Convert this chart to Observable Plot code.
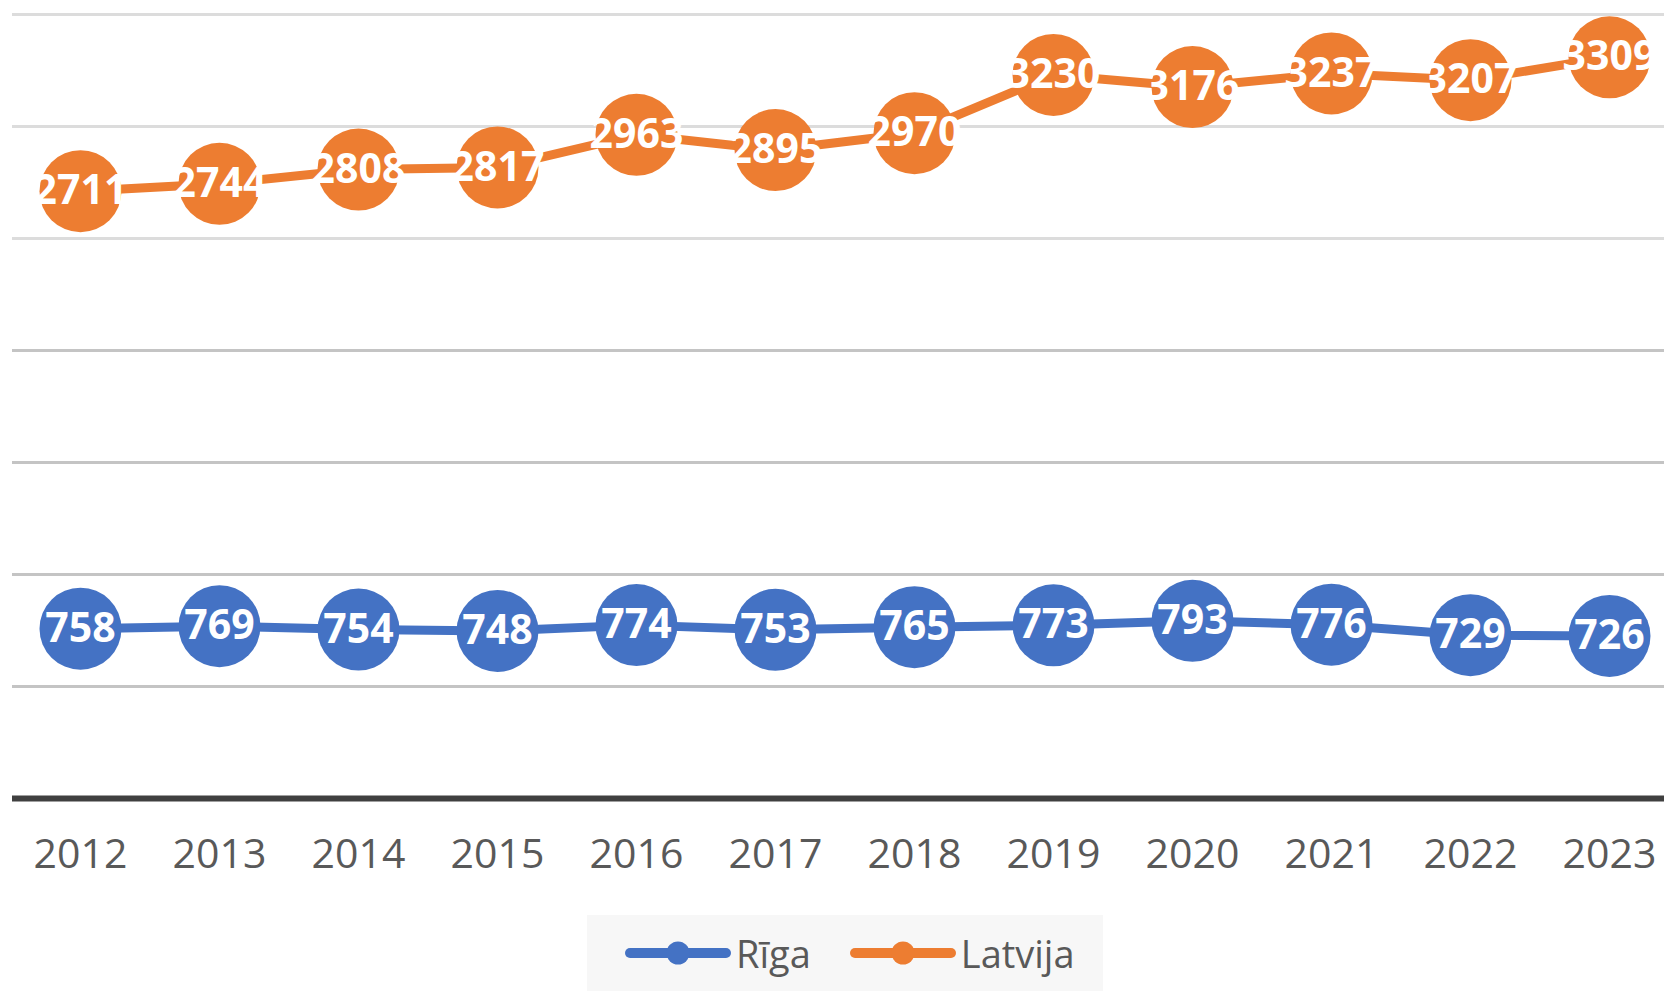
<!DOCTYPE html>
<html>
<head>
<meta charset="utf-8">
<script src="https://cdn.jsdelivr.net/npm/d3@7"></script>
<script src="https://cdn.jsdelivr.net/npm/@observablehq/plot@0.6"></script>
<style>
  html, body { margin: 0; padding: 0; background: #fff; font-family: "Open Sans", sans-serif; }
  #chart svg { display: block; }
  .legend { margin-left: 587px; margin-top: 10px; width: 516px; height: 76px; box-sizing: border-box; padding-left: 37px; background: #f7f7f7; display: flex; align-items: center; justify-content: flex-start; gap: 38px; }
  .item { display: flex; align-items: center; font-size: 38px; color: #595959; line-height: 1; }
  .item svg { margin-right: 4px; }
</style>
</head>
<body>
<div id="chart"></div>
<div class="legend" id="legend"></div>
<script>
const years = [2012, 2013, 2014, 2015, 2016, 2017, 2018, 2019, 2020, 2021, 2022, 2023];
const riga = [758, 769, 754, 748, 774, 753, 765, 773, 793, 776, 729, 726];
const latvija = [2711, 2744, 2808, 2817, 2963, 2895, 2970, 3230, 3176, 3237, 3207, 3309];
const seriesNames = ["Rīga", "Latvija"];
const seriesColors = ["#4472c4", "#ed7d31"];
const gridValues = [500, 1000, 1500, 2000, 2500, 3000, 3500];

const data = [];
years.forEach((yr, i) => {
  data.push({year: yr, value: riga[i], series: seriesNames[0]});
  data.push({year: yr, value: latvija[i], series: seriesNames[1]});
});

const chart = Plot.plot({
  width: 1664,
  height: 905,
  marginLeft: 12,
  marginRight: 0,
  marginTop: 0,
  marginBottom: 107,
  style: {fontFamily: "Open Sans", background: "#fff"},
  x: {type: "point", domain: years, range: [80, 1609], padding: 0, label: null},
  y: {domain: [0, 3500], range: [798, 14], axis: null},
  color: {domain: seriesNames, range: seriesColors},
  marks: [
    Plot.ruleY(gridValues, {stroke: d => d >= 2500 ? "#dcdcdc" : "#c4c4c4", strokeWidth: 3}),
    Plot.ruleY([0], {stroke: "#404040", strokeWidth: 6}),
    Plot.axisX({tickSize: 0, tickPadding: 40, fontSize: 41, color: "#595959", tickFormat: d => String(d), label: null}),
    Plot.line(data, {x: "year", y: "value", z: "series", stroke: "series", strokeWidth: 9}),
    Plot.dot(data, {x: "year", y: "value", fill: "series", r: 41}),
    Plot.text(data, {x: "year", y: "value", text: d => String(d.value), fill: "white", fontSize: 41, fontWeight: "bold"})
  ]
});
document.getElementById("chart").appendChild(chart);

const legend = document.getElementById("legend");
seriesNames.forEach((name, i) => {
  const item = document.createElement("div");
  item.className = "item";
  item.innerHTML = `<svg width="108" height="30"><line x1="6" y1="15" x2="102" y2="15" stroke="${seriesColors[i]}" stroke-width="10" stroke-linecap="round"/><circle cx="54" cy="15" r="11.5" fill="${seriesColors[i]}"/></svg><span>${name}</span>`;
  legend.appendChild(item);
});
</script>
</body>
</html>
